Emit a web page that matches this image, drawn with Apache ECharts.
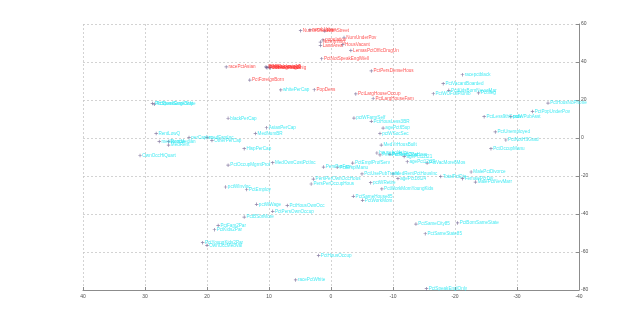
<!DOCTYPE html>
<html>
<head>
<meta charset="utf-8">
<script src="https://cdn.jsdelivr.net/npm/echarts@6/dist/echarts.min.js"></script>
<style>
  html, body { margin: 0; padding: 0; background: #fff; }
  #chart { width: 640px; height: 326px; }
</style>
</head>
<body>
<div id="chart"></div>
<script>
// Axis ticks
const xTicks = [40, 30, 20, 10, 0, -10, -20, -30, -40];
const yTicks = [60, 40, 20, 0, -20, -40, -60, -80];

// Variables loading on the first group (red)
const redNames = [
  'NumInShelters', 'numbUrban', 'NumStreet', 'population', 'NumImmig', 'LandArea',
  'HousVacant', 'NumUnderPov', 'LemasPctOfficDrugUn', 'PctNotSpeakEnglWell',
  'PctRecImmig10', 'PctRecImmig8', 'PctRecImmig5', 'PctRecentImmig', 'PctImmigRec10',
  'racePctAsian', 'PctForeignBorn', 'PctPersDenseHous', 'PopDens',
  'PctLargHouseOccup', 'PctLargHouseFam'
];
const redX = [
  4.9, 3.4, 1.0, 1.3, 1.7, 1.7,
  -1.9, -2.1, -3.2, 1.5,
  10.5, 10.3, 10.0, 9.8, 10.4,
  16.9, 13.1, -6.5, 2.7,
  -4.0, -6.8
];
const redY = [
  56.5, 56.9, 56.3, 51.6, 50.5, 48.7,
  49.1, 52.9, 46.1, 41.7,
  37.4, 37.0, 37.3, 36.9, 37.1,
  37.4, 30.5, 35.3, 25.4,
  23.2, 20.8
];

// Variables loading on the second group (cyan)
const cyanNames = [
  'PctSpeakEnglOnly', 'PctBornSameState', 'whitePerCap', 'blackPerCap', 'AsianPerCap',
  'MedNumBR', 'RentLowQ', 'perCapInc', 'medFamInc', 'OtherPerCap', 'medIncome',
  'RentMedian', 'MedRent', 'OwnOccHiQuart', 'HispPerCap', 'PctOccupMgmtProf',
  'MedOwnCostPctInc', 'racepctblack', 'PctVacantBoarded', 'PctKidsBornNeverMar',
  'PctIlleg', 'PctWOFullPlumb', 'PctHousNoPhone', 'PctPopUnderPov', 'PctLess9thGrade',
  'pctWPubAsst', 'pctWFarmSelf', 'PctHousLess3BR', 'agePct65up', 'pctWSocSec',
  'PctUnemployed', 'PctNotHSGrad', 'PctOccupManu', 'MedYrHousBuilt',
  'householdsize', 'PersPerRentOccHous', 'PctTeen2Par', 'agePct12t21', 'agePct12t29',
  'PctVacMore6Mos', 'PctEmplProfServ', 'PctEmplManu', 'PersPerFam', 'PctUsePubTrans',
  'MedRentPctHousInc', 'agePct16t24', 'pctWRetire', 'PctWorkMomYoungKids',
  'PctSameHouse85', 'PctWorkMom', 'PctSameCity85', 'PctBornSameState',
  'PctSameState85', 'PctSpeakEnglOnly', 'MalePctDivorce', 'TotalPctDiv', 'FemalePctDiv',
  'MalePctNevMarr', 'PersPerOwnOccHous', 'PersPerOccupHous', 'pctWInvInc', 'PctEmploy',
  'pctWWage', 'PctHousOwnOcc', 'PctPersOwnOccup', 'PctBSorMore', 'PctFam2Par',
  'PctKids2Par', 'PctYoungKids2Par', 'OwnOccMedVal', 'PctHousOccup', 'racePctWhite'
];
const cyanX = [
  28.8, 28.5, 8.1, 16.6, 10.4,
  12.2, 28.2, 22.9, 20.0, 19.2, 27.7,
  26.2, 26.2, 30.8, 14.0, 16.6,
  9.4, -21.2, -18.1, -19.0,
  -23.8, -16.5, -35.0, -32.5, -24.7,
  -29.0, -3.7, -6.5, -8.4, -7.9,
  -26.5, -28.2, -25.8, -8.1,
  -7.4, -7.9, -9.5, -11.8, -12.3,
  -15.5, -3.5, -1.0, 1.2, -5.0,
  -10.0, -10.8, -6.4, -8.2,
  -3.6, -5.1, -13.7, -20.4,
  -15.2, -15.4, -22.6, -17.7, -21.2,
  -23.3, 2.85, 3.2, 17.0, 13.6,
  12.0, 7.05, 9.4, 14.0, 18.2,
  18.8, 20.7, 20.0, 2.0, 5.7
];
const cyanY = [
  18.1, 17.8, 25.3, 10.4, 5.4,
  2.4, 2.4, 0.2, 0.2, -1.3, -1.9,
  -1.9, -3.7, -9.2, -5.6, -14.3,
  -13.0, 33.3, 28.6, 25.1,
  23.7, 23.3, 18.4, 14.0, 11.2,
  11.2, 10.5, 8.8, 5.2, 2.4,
  3.2, -1.05, -5.6, -3.7,
  -7.9, -8.9, -8.6, -9.8, -12.5,
  -13.2, -13.2, -15.4, -15.3, -18.9,
  -18.9, -21.3, -23.5, -26.8,
  -30.7, -32.8, -45.3, -44.7,
  -50.4, -79.3, -17.9, -20.2, -21.4,
  -23.2, -21.6, -24.2, -25.8, -27.1,
  -34.9, -35.5, -38.6, -41.6, -46.0,
  -48.3, -55.1, -56.5, -61.8, -74.7
];

const plusSymbol = 'path://M4,0H6V4H10V6H6V10H4V6H0V4H4Z';
const labelFont = { fontSize: 4.6, fontFamily: 'Liberation Sans, Arial, sans-serif' };

function makeSeries(names, xs, ys, color) {
  return {
    type: 'scatter',
    symbol: plusSymbol,
    symbolSize: 3.5,
    itemStyle: { color: '#6e5f8f' },
    label: {
      show: true,
      position: 'right',
      distance: 0.5,
      color: color,
      ...labelFont,
      formatter: p => p.value[2]
    },
    labelLayout: { hideOverlap: false },
    emphasis: { disabled: true },
    data: names.map((n, i) => [xs[i], ys[i], n])
  };
}

const chart = echarts.init(document.getElementById('chart'), null, { renderer: 'canvas' });
const gridLine = { show: true, lineStyle: { color: '#c8c8c8', type: [2, 2], width: 0.8 } };
const tickLabel = { color: '#505050', fontSize: 5, fontFamily: 'Liberation Sans, Arial, sans-serif' };

chart.setOption({
  animation: false,
  backgroundColor: '#ffffff',
  grid: { left: 83, right: 61, top: 24, bottom: 36, containLabel: false },
  xAxis: {
    type: 'value',
    inverse: true,
    min: -40, max: 40, interval: 10,
    position: 'bottom',
    axisLine: { show: true, onZero: false, lineStyle: { color: '#8c8c8c', width: 1 } },
    axisTick: { show: true, inside: true, length: 3, lineStyle: { color: '#8c8c8c' } },
    axisLabel: { ...tickLabel, margin: 4, formatter: v => xTicks.includes(v) ? String(v) : '' },
    splitLine: gridLine
  },
  yAxis: {
    type: 'value',
    min: -80, max: 60, interval: 20,
    position: 'right',
    axisLine: { show: true, onZero: false, lineStyle: { color: '#8c8c8c', width: 1 } },
    axisTick: { show: true, inside: true, length: 3, lineStyle: { color: '#8c8c8c' } },
    axisLabel: { ...tickLabel, margin: 2, formatter: v => yTicks.includes(v) ? String(v) : '' },
    splitLine: gridLine
  },
  series: [
    makeSeries(cyanNames, cyanX, cyanY, '#19e6f0'),
    makeSeries(redNames, redX, redY, '#ff2a2a')
  ]
});
</script>
</body>
</html>
